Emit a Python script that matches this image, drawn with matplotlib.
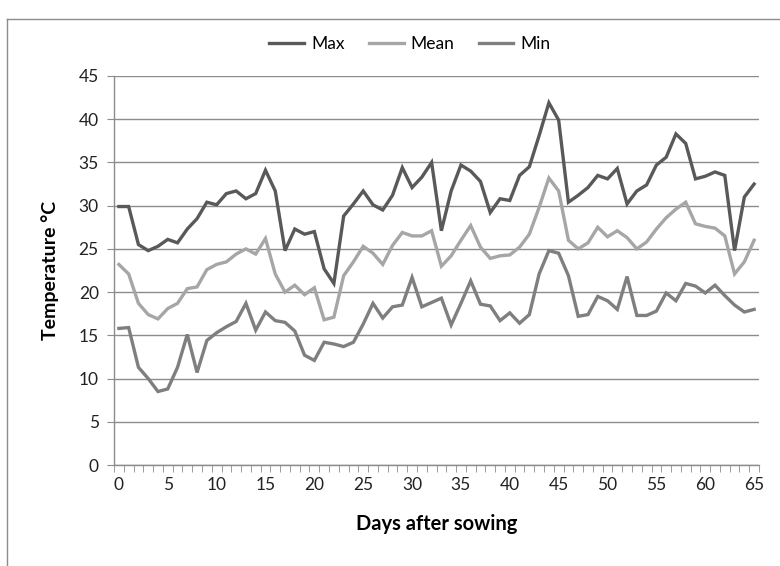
import numpy as np
import matplotlib.pyplot as plt
from matplotlib.lines import Line2D

plt.rcParams['font.family'] = ['Lato', 'DejaVu Sans']

days = np.arange(0, 66)

t_max = [29.9, 29.9, 25.5, 24.8, 25.3, 26.1, 25.7, 27.3, 28.5, 30.4,
         30.1, 31.4, 31.7, 30.8, 31.4, 34.1, 31.7, 24.8, 27.3, 26.7,
         27.0, 22.7, 21.0, 28.8, 30.2, 31.7, 30.1, 29.5, 31.2, 34.4,
         32.1, 33.3, 35.0, 27.1, 31.7, 34.7, 34.0, 32.8, 29.2, 30.8,
         30.6, 33.5, 34.5, 38.1, 41.9, 39.9, 30.4, 31.2, 32.1, 33.5,
         33.1, 34.3, 30.2, 31.7, 32.4, 34.7, 35.6, 38.3, 37.2, 33.1,
         33.4, 33.9, 33.5, 24.8, 31.0, 32.5]

t_mean = [23.2, 22.1, 18.7, 17.4, 16.9, 18.1, 18.7, 20.4, 20.6, 22.6,
          23.2, 23.5, 24.4, 25.0, 24.4, 26.2, 22.1, 20.0, 20.8, 19.7,
          20.5, 16.8, 17.1, 21.9, 23.5, 25.3, 24.5, 23.2, 25.4, 26.9,
          26.5, 26.5, 27.1, 23.0, 24.2, 26.0, 27.7, 25.2, 23.9, 24.2,
          24.3, 25.2, 26.7, 29.8, 33.2, 31.7, 26.0, 25.0, 25.7, 27.5,
          26.4, 27.1, 26.3, 25.0, 25.8, 27.3, 28.6, 29.6, 30.4, 27.9,
          27.6, 27.4, 26.5, 22.1, 23.5, 26.0]

t_min = [15.8, 15.9, 11.3, 10.0, 8.5, 8.8, 11.3, 15.1, 10.7, 14.4,
         15.3, 16.0, 16.6, 18.7, 15.6, 17.7, 16.7, 16.5, 15.5, 12.7,
         12.1, 14.2, 14.0, 13.7, 14.2, 16.3, 18.7, 17.0, 18.3, 18.5,
         21.7, 18.3, 18.8, 19.3, 16.2, 18.7, 21.3, 18.6, 18.4, 16.7,
         17.6, 16.4, 17.4, 22.1, 24.8, 24.5, 21.9, 17.2, 17.4, 19.5,
         19.0, 18.0, 21.8, 17.3, 17.3, 17.8, 19.9, 19.0, 21.0, 20.7,
         19.9, 20.8, 19.6, 18.5, 17.7, 18.0]

series = ['Max', 'Mean', 'Min']
colors = ['#595959', '#a6a6a6', '#7f7f7f']
axis_gray = '#8c8c8c'

fig = plt.figure(figsize=(7.8, 5.66), dpi=100)
ax = fig.add_axes([114 / 780, 1 - 465 / 566, 645 / 780, 389 / 566])

for vals, name, col in zip([t_max, t_mean, t_min], series, colors):
    ax.plot(days, vals, color=col, lw=2.4, label=name, solid_joinstyle='miter')

ax.set_xlim(-0.5, 65.5)
ax.set_ylim(0, 45)
ax.set_yticks(np.arange(0, 46, 5))
ax.set_xticks(np.arange(0, 66, 5))
ax.set_xticks(np.arange(-0.5, 66, 1), minor=True)
ax.grid(axis='y', color=axis_gray, lw=1)
ax.set_axisbelow(True)

for s in ['top', 'right']:
    ax.spines[s].set_visible(False)
for s in ['left', 'bottom']:
    ax.spines[s].set_color(axis_gray)
    ax.spines[s].set_linewidth(1)

ax.tick_params(axis='x', which='major', length=0, pad=9, labelsize=12.5, colors='#222222')
ax.tick_params(axis='x', which='minor', length=5, color=axis_gray, direction='out')
ax.tick_params(axis='y', length=5, color=axis_gray, pad=6, labelsize=12.5, labelcolor='#222222')

ax.set_xlabel('Days after sowing', fontsize=14.5, fontweight='bold', labelpad=15)
ax.set_ylabel('Temperature \u00b0C', fontsize=14, fontweight='bold', labelpad=14)

handles = [Line2D([], [], color=c, lw=2.4) for c in colors]
fig.legend(handles, series, loc='center', bbox_to_anchor=(410 / 780, 1 - 44 / 566),
           ncol=3, frameon=False, fontsize=12.5, handlelength=2.0,
           handletextpad=0.4, columnspacing=1.4)

# outer chart frame (only top and left edges visible in the crop)
fig.add_artist(Line2D([7 / 780, 1], [1 - 19 / 566] * 2, transform=fig.transFigure,
                      color='#8c8c8c', lw=1))
fig.add_artist(Line2D([7 / 780] * 2, [0, 1 - 19 / 566], transform=fig.transFigure,
                      color='#8c8c8c', lw=1))

fig.savefig('out.png', dpi=100, facecolor='white')
